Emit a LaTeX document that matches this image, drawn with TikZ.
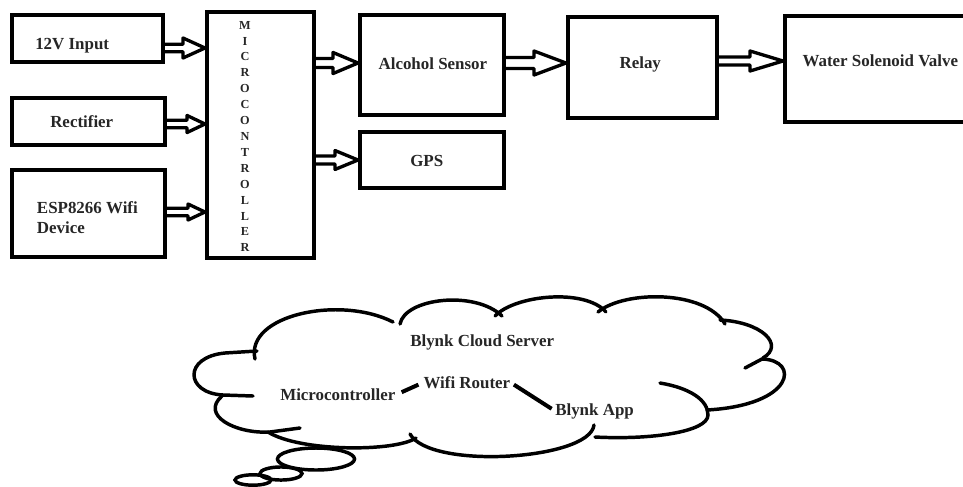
\documentclass[tikz,border=0pt]{standalone}
\usepackage{fontspec}
\setmainfont{Liberation Serif}
\usetikzlibrary{calc}
\def\fathl{16pt}\def\fathh{7.5pt}\def\fatsw{2.85pt}
\tikzset{
  box/.style={draw, line width=3pt, inner sep=0pt},
  lbl/.style={inner sep=0pt, font=\fontsize{12.7}{15}\selectfont\bfseries, text=black!85},
  fathl/.code={\def\fathl{#1}},
  fathh/.code={\def\fathh{#1}},
  fatsw/.code={\def\fatsw{#1}},
  fat/.style={line width=2.5pt, line join=round, to path={
    let \p1=(\tikztostart), \p2=(\tikztotarget) in
    (\x1,\y1+\fatsw) -- (\x2-\fathl,\y1+\fatsw) -- (\x2-\fathl,\y1+\fathh) -- (\x2,\y1)
    -- (\x2-\fathl,\y1-\fathh) -- (\x2-\fathl,\y1-\fatsw) -- (\x1,\y1-\fatsw)}},
  cl/.style={line width=2.6pt, line cap=round},
  thin/.style={line width=3pt},
}
\begin{document}
\begin{tikzpicture}[x=0.75pt,y=-0.75pt]
\useasboundingbox (0,0) rectangle (963,486);
\clip (0,0) rectangle (963,486);
% boxes
\node[box, minimum width=151*0.75pt, minimum height=47*0.75pt] (inp) at (87.5,38.5) {};
\node[box, minimum width=153*0.75pt, minimum height=47*0.75pt] (rec) at (88.5,121.5) {};
\node[box, minimum width=153*0.75pt, minimum height=87*0.75pt] (esp) at (88.5,213.5) {};
\node[box, minimum width=107*0.75pt, minimum height=246*0.75pt] (mcu) at (260.5,135) {};
\node[box, minimum width=144*0.75pt, minimum height=100*0.75pt] (alc) at (432,65) {};
\node[box, minimum width=144*0.75pt, minimum height=56*0.75pt] (gps) at (432,160) {};
\node[box, minimum width=149*0.75pt, minimum height=101*0.75pt] (rel) at (642.5,67.5) {};
\node[box, minimum width=200*0.75pt, minimum height=106*0.75pt] (wat) at (885,69) {};
% labels
\node[lbl, anchor=base west] (tinp) at (35,49.3) {12V Input};
\node[lbl, anchor=base west] (trec) at (50,127.7) {Rectifier};
\node[lbl, anchor=base west] (tesp1) at (36.7,213.3) {ESP8266 Wifi};
\node[lbl, anchor=base west] (tesp2) at (36.7,233.3) {Device};
\node[lbl, anchor=base west] (talc) at (378.3,69.3) {Alcohol Sensor};
\node[lbl, anchor=base west] (tgps) at (410,166.7) {GPS};
\node[lbl, anchor=base west] (trel) at (619.3,68.3) {Relay};
\node[lbl, anchor=base west] (twat) at (802.3,66.7) {Water Solenoid Valve};
\node[inner sep=0pt, align=center, text=black!85,
      font=\fontsize{9.2}{11.93}\selectfont\bfseries] (tmcu) at (245,136.5)
  {M\\I\\C\\R\\O\\C\\O\\N\\T\\R\\O\\L\\L\\E\\R};
% fat arrows
\draw[fat, fathl=16.5pt, fathh=7.5pt, fatsw=2.85pt]
  ($(inp.east)+(0,9.5)$) to ($(inp.east-|mcu.west)+(0,9.5)$);
\draw[fat, fathl=13.5pt, fathh=6.4pt, fatsw=2.85pt]
  ($(rec.east)+(0,2.5)$) to ($(rec.east-|mcu.west)+(0,2.5)$);
\draw[fat, fathl=12.75pt, fathh=6pt, fatsw=2.85pt]
  ($(esp.east)+(0,-1.5)$) to ($(esp.east-|mcu.west)+(0,-1.5)$);
\draw[fat, fathl=18.75pt, fathh=7.9pt, fatsw=3.4pt]
  ($(alc.west-|mcu.east)+(0,-2)$) to ($(alc.west)+(0,-2)$);
\draw[fat, fathl=17.25pt, fathh=7.1pt, fatsw=3pt]
  (gps.west-|mcu.east) to (gps.west);
\draw[fat, fathl=24pt, fathh=9pt, fatsw=4.1pt]
  ($(alc.east)+(0,-2)$) to ($(alc.east-|rel.west)+(0,-2)$);
\draw[fat, fathl=24.75pt, fathh=7.5pt, fatsw=3pt]
  ($(rel.east)+(0,-6.5)$) to ($(rel.east-|wat.west)+(0,-6.5)$);
% cloud
\draw[cl] (253,396) -- (223,395) .. controls (185,393) and (183,357) .. (225,353) -- (257,351);
\draw[cl] (255,359) .. controls (245,315) and (340,295) .. (393,322);
\draw[cl] (400,324) .. controls (405,298) and (475,290) .. (502,316);
\draw[cl] (495,316) .. controls (515,295) and (585,288) .. (606,312);
\draw[cl] (598,312) .. controls (625,290) and (705,290) .. (725,324);
\draw[cl] (720,320) .. controls (762,322) and (785,345) .. (763,358);
\draw[cl] (745,368) -- (762,359) .. controls (800,360) and (795,405) .. (707,410);
\draw[cl] (660,383) .. controls (690,388) and (708,400) .. (708,415)
  .. controls (708,432) and (650,440) .. (595,437);
\draw[cl] (594,425) .. controls (590,460) and (430,470) .. (410,434);
\draw[cl] (416,438) .. controls (395,452) and (300,452) .. (268,432);
\draw[cl] (300,428) -- (270,432) .. controls (235,434) and (200,415) .. (222,396);
% thought bubbles
\draw[cl] (316,459) ellipse [x radius=28.9pt, y radius=8.25pt];
\draw[cl] (281,473.5) ellipse [x radius=15.75pt, y radius=4.9pt];
\draw[cl] (253,480) ellipse [x radius=13.5pt, y radius=3.9pt];
% cloud texts
\node[lbl, anchor=base west] (bcs) at (410,346.7) {Blynk Cloud Server};
\node[lbl, anchor=base west] (mc) at (280,400.7) {Microcontroller};
\node[lbl, anchor=base west] (wr) at (423.3,388.3) {Wifi Router};
\node[lbl, anchor=base west] (ba) at (555,415) {Blynk App};
\draw[thin, shorten <=5pt, shorten >=4pt] (mc.east) -- (wr.west);
\draw[thin, shorten <=3pt, shorten >=3pt] (wr.east) -- (ba.west);
\end{tikzpicture}
\end{document}
